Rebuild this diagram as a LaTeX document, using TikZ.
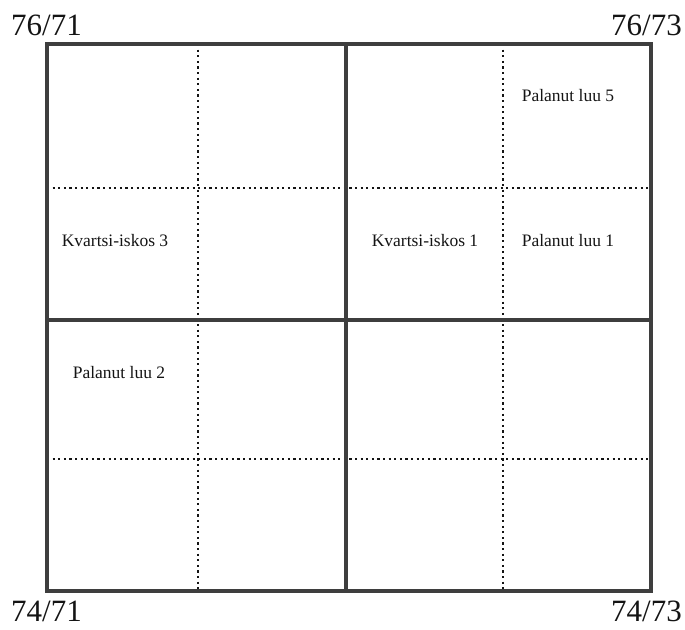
\documentclass[tikz,border=0pt]{standalone}
\usepackage{fontspec}
\setmainfont{Liberation Serif}
\definecolor{wall}{RGB}{62, 62, 62}
\definecolor{ink}{RGB}{20, 20, 20}
\tikzset{
  wallline/.style={wall, line width=3.5},
  dotline/.style={ink, line width=2.2, dash pattern=on 2.2pt off 3.4pt},
  cornerlabel/.style={ink, inner sep=0, font=\fontsize{31}{34}\selectfont},
  findlabel/.style={ink, inner sep=0, font=\fontsize{17.5}{20}\selectfont}
}

\begin{document}
\begin{tikzpicture}[x=1pt, y=-1pt]
  \useasboundingbox (0, 0) rectangle (685, 629);

  % square subdivisions
  \draw[dotline] (198, 44) -- (198, 591);
  \draw[dotline] (503, 44) -- (503, 591);
  \draw[dotline] (47, 188) -- (651, 188);
  \draw[dotline] (47, 459) -- (651, 459);

  % square borders
  \draw[wallline] (47, 44) rectangle (651, 591);
  \draw[wallline] (346, 44) -- (346, 591);
  \draw[wallline] (47, 320) -- (651, 320);

  % corner coordinates
  \node[cornerlabel, anchor=base west] (nw) at (11, 35) {76/71};
  \node[cornerlabel, anchor=base east] (ne) at (682, 35) {76/73};
  \node[cornerlabel, anchor=base west] (sw) at (11, 621) {74/71};
  \node[cornerlabel, anchor=base east] (se) at (682, 621) {74/73};

  % finds
  \node[findlabel] (kvartsi3) at (115, 241) {Kvartsi-iskos 3};
  \node[findlabel] (kvartsi1) at (425, 241) {Kvartsi-iskos 1};
  \node[findlabel] (luu1) at (568, 241) {Palanut luu 1};
  \node[findlabel] (luu5) at (568, 96) {Palanut luu 5};
  \node[findlabel] (luu2) at (119, 373) {Palanut luu 2};
\end{tikzpicture}
\end{document}
